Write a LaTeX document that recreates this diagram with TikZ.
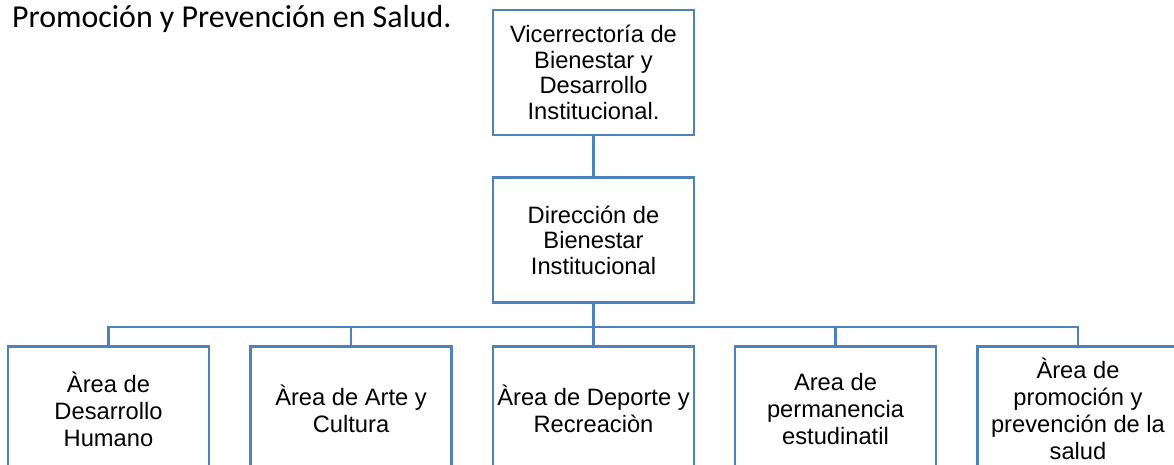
\documentclass[tikz,border=0pt]{standalone}
\usepackage{fontspec}
\setmainfont{Liberation Sans}
\newfontfamily\calibri{Carlito}
\definecolor{orgblue}{RGB}{79,129,189}
\tikzstyle{unit}=[draw=orgblue,line width=2.5pt,rectangle,minimum width=201pt,minimum height=125pt,inner sep=0pt,align=center,font=\fontsize{23.7}{25.5}\selectfont]
\tikzstyle{area}=[unit,font=\fontsize{23.7}{27}\selectfont]
\tikzstyle{link} = [draw=orgblue,line width=2.5pt,-]
\tikzstyle{heading} = [font=\calibri\fontsize{31.9}{38}\selectfont,anchor=base west,inner sep=0pt]

\begin{document}
\begin{tikzpicture}[x=1pt,y=-1pt]
    \useasboundingbox (0,0) rectangle (1174,465);
    \clip (0,0) rectangle (1174,465);
    % Heading in the top left corner
    \node[heading] (title) at (12,28) {Promoción y Prevención en Salud.};
    % First we draw the two upper boxes
    \node[unit] (vice) at (593.5,72.5) {Vicerrectoría de\\Bienestar y\\Desarrollo\\Institucional.};
    \node[unit] (dir) at (593.5,240) {Dirección de\\Bienestar\\Institucional};
    % Then the five areas
    \foreach \pos/\name/\label in {{(108.5,409)/hum/{Àrea de\\Desarrollo\\Humano}},
            {(351,409)/arte/{Àrea de Arte y\\Cultura}},
            {(593.5,409)/dep/{Àrea de Deporte y\\Recreaciòn}},
            {(835.5,409)/perm/{Area de\\permanencia\\estudinatil}},
            {(1078,409)/salud/{Àrea de\\promoción y\\prevención de la\\salud}}}
        \node[area] (\name) at \pos {\label};
    % Connect the boxes
    \path[link] (vice) -- (dir);
    \foreach \dest in {hum,arte,dep,perm,salud}
        \path[link] (dir.south) -- ++(0,23) -| (\dest.north);
\end{tikzpicture}
\end{document}
